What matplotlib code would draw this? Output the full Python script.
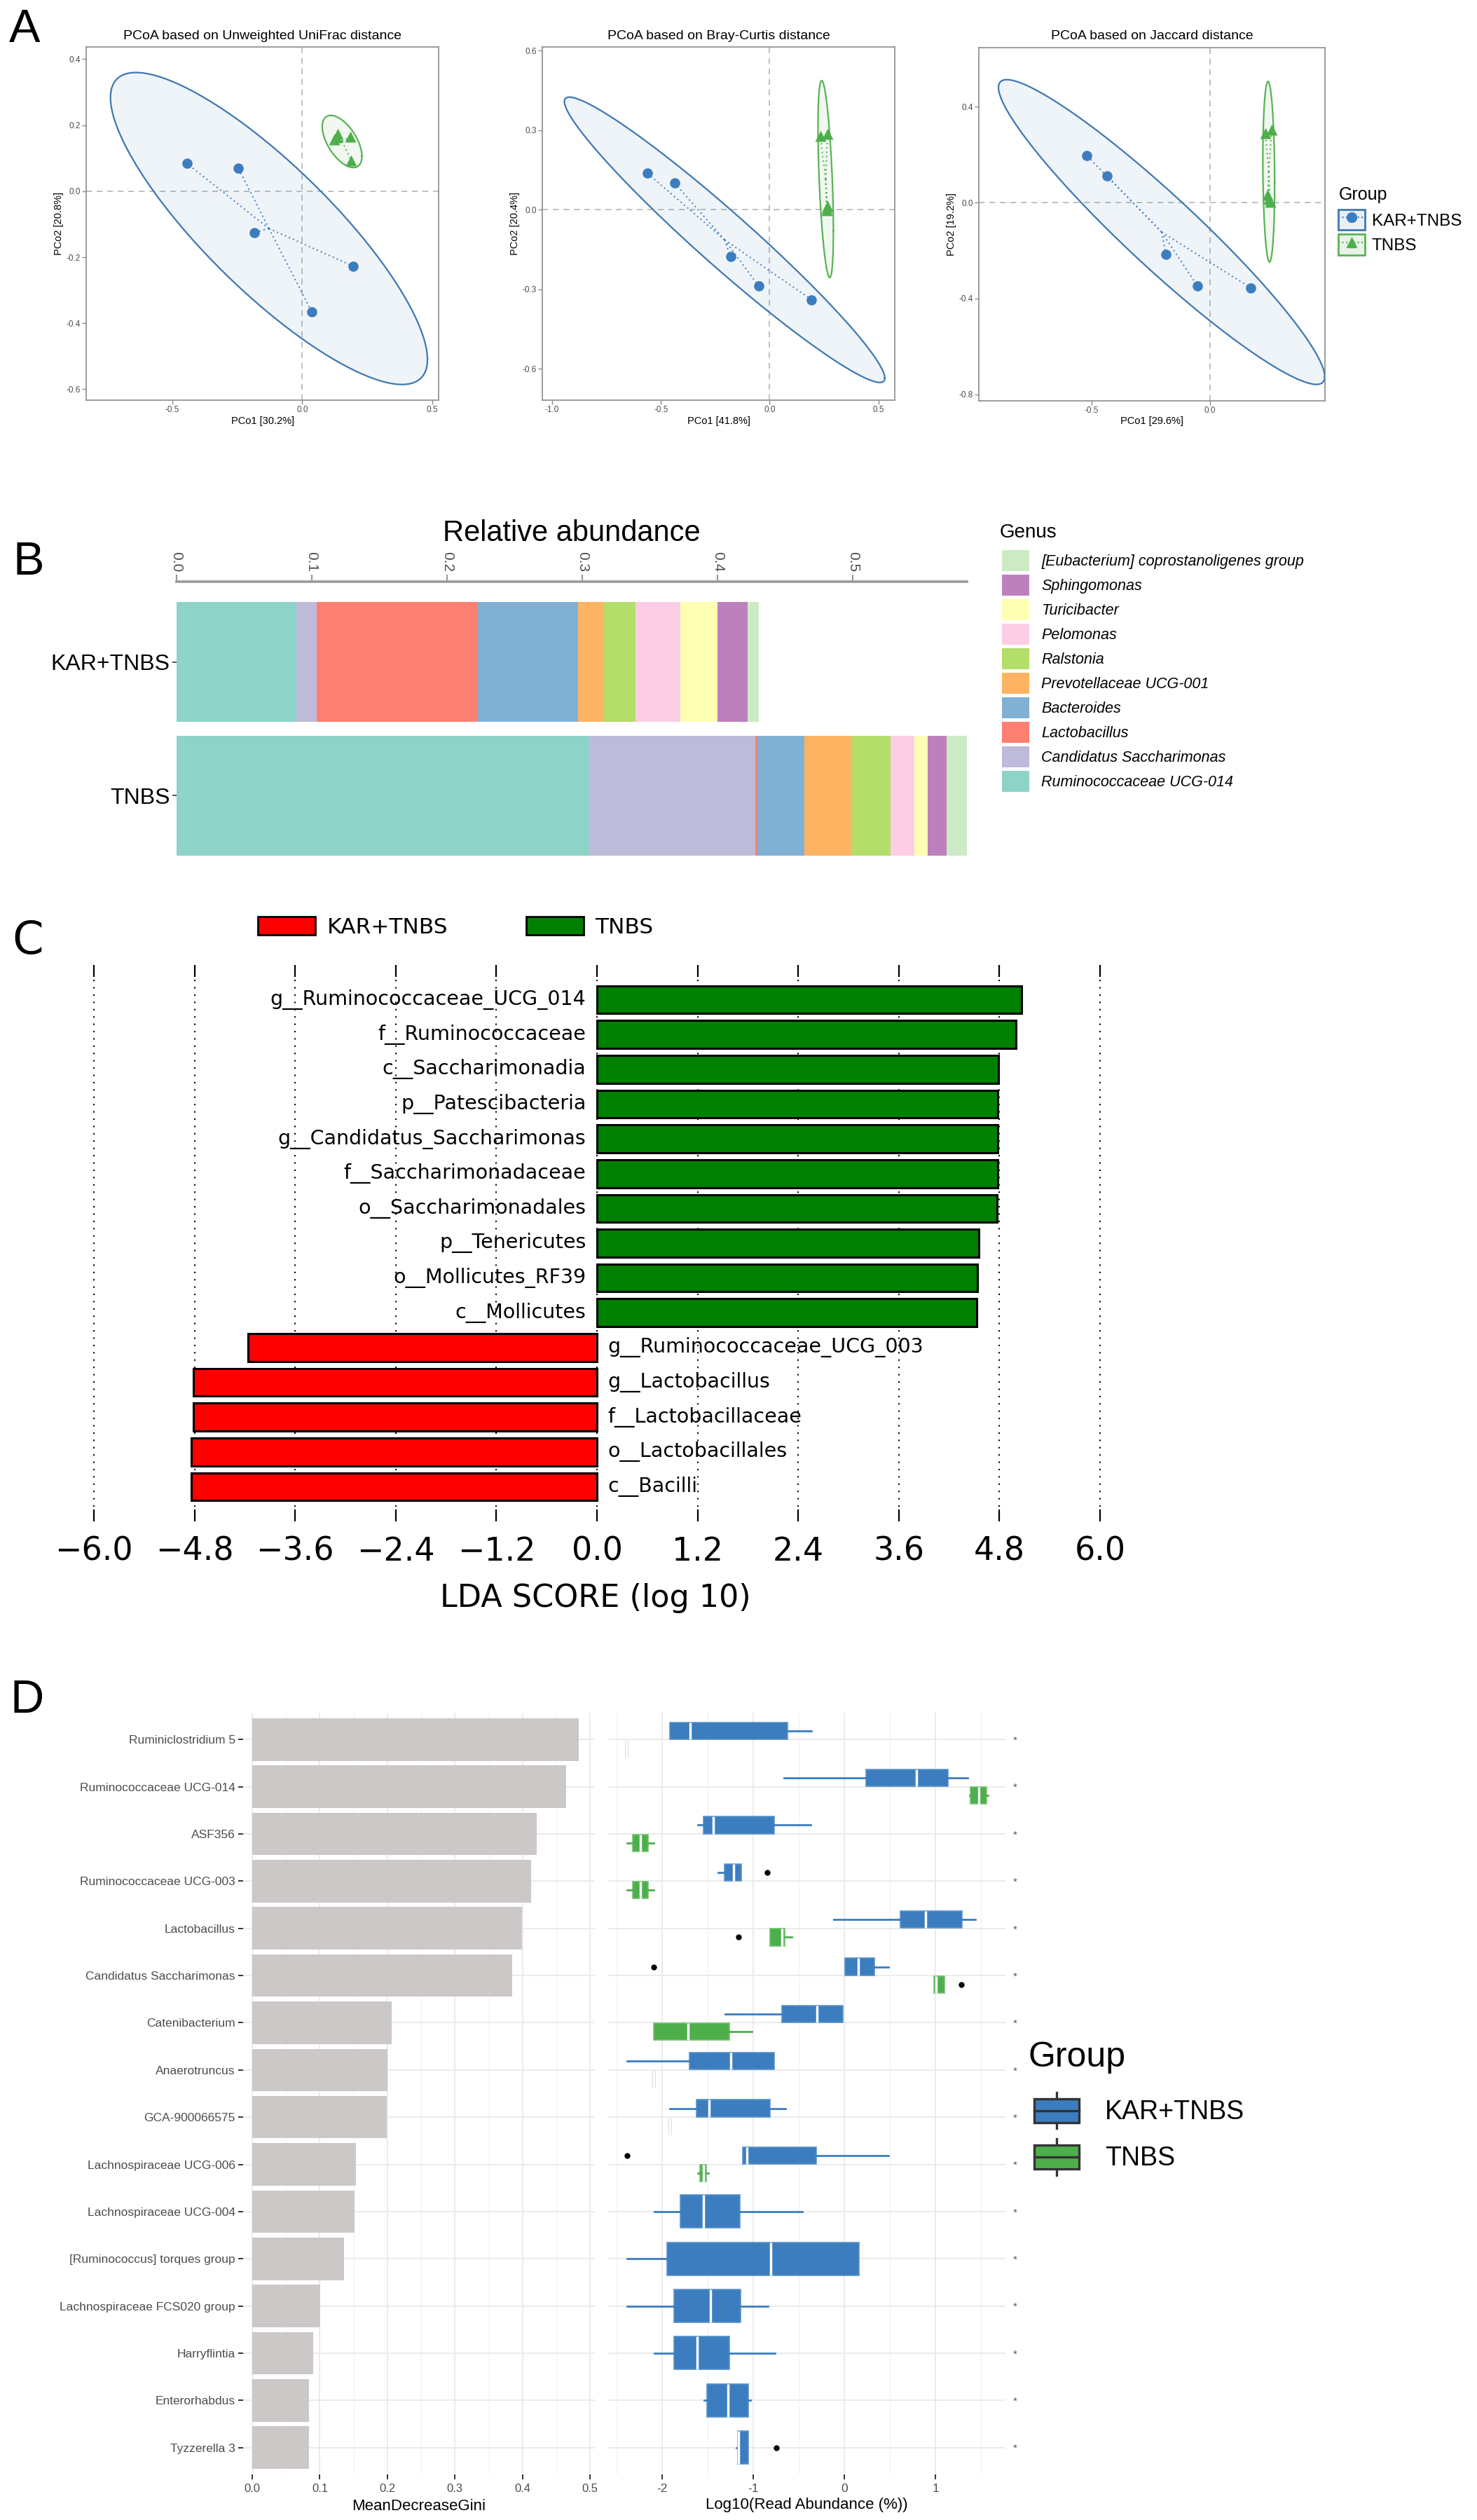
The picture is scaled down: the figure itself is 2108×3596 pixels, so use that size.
import numpy as np
import matplotlib
matplotlib.use('Agg')
import matplotlib.pyplot as plt
from matplotlib.patches import Patch, Rectangle
from matplotlib.lines import Line2D
from matplotlib.legend_handler import HandlerBase, HandlerTuple
from matplotlib.ticker import FuncFormatter, MultipleLocator

plt.rcParams['font.family'] = ['Liberation Sans', 'DejaVu Sans']

# ---------------- Panel A data (PCoA coordinates) ----------------
group_names = ["KAR+TNBS", "TNBS"]

uw_kar_x = [-0.443, -0.245, -0.183, 0.195, 0.037]
uw_kar_y = [0.084, 0.069, -0.125, -0.227, -0.366]
uw_tnbs_x = [0.136, 0.124, 0.186, 0.188, 0.132]
uw_tnbs_y = [0.174, 0.156, 0.166, 0.094, 0.163]

bc_kar_x = [-0.561, -0.436, -0.180, -0.051, 0.192]
bc_kar_y = [0.137, 0.100, -0.177, -0.287, -0.339]
bc_tnbs_x = [0.232, 0.266, 0.266, 0.261, 0.263]
bc_tnbs_y = [0.278, 0.286, 0.013, -0.003, 0.005]

jc_kar_x = [-0.519, -0.434, -0.186, -0.052, 0.171]
jc_kar_y = [0.195, 0.111, -0.217, -0.349, -0.355]
jc_tnbs_x = [0.233, 0.260, 0.244, 0.253, 0.250]
jc_tnbs_y = [0.289, 0.304, 0.033, 0.002, 0.015]

pcoa_titles = ["PCoA based on Unweighted UniFrac distance",
               "PCoA based on Bray-Curtis distance",
               "PCoA based on Jaccard distance"]
pcoa_xlabels = ["PCo1 [30.2%]", "PCo1 [41.8%]", "PCo1 [29.6%]"]
pcoa_ylabels = ["PCo2 [20.8%]", "PCo2 [20.4%]", "PCo2 [19.2%]"]
pcoa_xticks = [[-0.5, 0.0, 0.5], [-1.0, -0.5, 0.0, 0.5], [-0.5, 0.0]]
pcoa_yticks = [[-0.6, -0.4, -0.2, 0.0, 0.2, 0.4], [-0.6, -0.3, 0.0, 0.3, 0.6],
               [-0.8, -0.4, 0.0, 0.4]]

# ---------------- Panel B data (relative abundance) ----------------
genera = ["Ruminococcaceae UCG-014", "Candidatus Saccharimonas", "Lactobacillus",
          "Bacteroides", "Prevotellaceae UCG-001", "Ralstonia", "Pelomonas",
          "Turicibacter", "Sphingomonas", "[Eubacterium] coprostanoligenes group"]
kar_abund = [0.0884, 0.0153, 0.1186, 0.0744, 0.0191, 0.0233, 0.0335, 0.0274, 0.0219, 0.0083]
tnbs_abund = [0.3051, 0.1228, 0.0014, 0.0349, 0.0353, 0.0284, 0.0172, 0.0102, 0.0140, 0.0149]
genus_colors = ['#8DD3C7', '#BEBADA', '#FB8072', '#80B1D3', '#FDB462', '#B3DE69',
                '#FCCDE5', '#FFFFB3', '#BC80BD', '#CCEBC5']
abund_ticks = [0.0, 0.1, 0.2, 0.3, 0.4, 0.5]

# ---------------- Panel C data (LEfSe) ----------------
lda_names = ["g__Ruminococcaceae_UCG_014", "f__Ruminococcaceae", "c__Saccharimonadia",
             "p__Patescibacteria", "g__Candidatus_Saccharimonas", "f__Saccharimonadaceae",
             "o__Saccharimonadales", "p__Tenericutes", "o__Mollicutes_RF39", "c__Mollicutes",
             "g__Ruminococcaceae_UCG_003", "g__Lactobacillus", "f__Lactobacillaceae",
             "o__Lactobacillales", "c__Bacilli"]
lda_scores = [5.06, 5.00, 4.79, 4.78, 4.78, 4.78, 4.77, 4.55, 4.54, 4.53,
              -4.16, -4.81, -4.81, -4.84, -4.84]
lda_ticks = [-6.0, -4.8, -3.6, -2.4, -1.2, 0.0, 1.2, 2.4, 3.6, 4.8, 6.0]

# ---------------- Panel D data (random forest) ----------------
rf_genera = ["Ruminiclostridium 5", "Ruminococcaceae UCG-014", "ASF356",
             "Ruminococcaceae UCG-003", "Lactobacillus", "Candidatus Saccharimonas",
             "Catenibacterium", "Anaerotruncus", "GCA-900066575", "Lachnospiraceae UCG-006",
             "Lachnospiraceae UCG-004", "[Ruminococcus] torques group",
             "Lachnospiraceae FCS020 group", "Harryflintia", "Enterorhabdus", "Tyzzerella 3"]
rf_gini = [0.4834, 0.4645, 0.4211, 0.4130, 0.3988, 0.3844, 0.2065, 0.2002, 0.1991,
           0.1539, 0.1516, 0.1356, 0.1001, 0.0904, 0.0841, 0.0835]

kar_lo = [-1.919, -0.667, -1.610, -1.389, -0.117, 0.003, -1.311, -2.390, -1.915, -1.119,
          -2.088, -2.390, -2.390, -2.088, -1.541, -1.187]
kar_q1 = [-1.919, 0.237, -1.551, -1.320, 0.611, 0.003, -0.689, -1.701, -1.623, -1.119,
          -1.798, -1.948, -1.873, -1.870, -1.509, -1.171]
kar_med = [-1.694, 0.793, -1.441, -1.220, 0.891, 0.150, -0.302, -1.249, -1.489, -1.073,
           -1.545, -0.813, -1.470, -1.616, -1.281, -1.164]
kar_q3 = [-0.624, 1.135, -0.771, -1.132, 1.291, 0.328, -0.020, -0.774, -0.816, -0.309,
          -1.151, 0.163, -1.138, -1.262, -1.054, -1.054]
kar_hi = [-0.364, 1.353, -0.374, -1.132, 1.434, 0.485, -0.020, -0.774, -0.647, 0.481,
          -0.462, 0.163, -0.839, -0.761, -1.034, -1.054]
kar_out = [[], [], [], [-0.849], [], [-2.091], [], [], [], [-2.390], [], [], [], [], [], [-0.751]]

tnbs_lo = [-2.393, 1.376, -2.390, -2.390, -0.816, 0.982, -2.094, -2.091, -1.915, -1.610,
           None, None, None, None, None, None]
tnbs_q1 = [-2.393, 1.385, -2.322, -2.322, -0.816, 0.982, -2.094, -2.091, -1.915, -1.584,
           None, None, None, None, None, None]
tnbs_med = [-2.393, 1.473, -2.244, -2.244, -0.683, 1.005, -1.720, -2.091, -1.915, -1.551,
            None, None, None, None, None, None]
tnbs_q3 = [-2.393, 1.561, -2.159, -2.159, -0.654, 1.099, -1.262, -2.091, -1.915, -1.515,
           None, None, None, None, None, None]
tnbs_hi = [-2.393, 1.571, -2.094, -2.094, -0.582, 1.099, -1.015, -2.091, -1.915, -1.493,
           None, None, None, None, None, None]
tnbs_out = [[], [], [], [], [-1.161], [1.281], [], [], [], [], [], [], [], [], [], []]

# ---------------- Figure ----------------
W, H = 2108, 3596
fig = plt.figure(figsize=(W / 100, H / 100), dpi=100)


def add_ax(l, t, r, b):
    return fig.add_axes([l / W, 1 - b / H, (r - l) / W, (b - t) / H])


def ftext(x, y, s, **kw):
    return fig.text(x / W, 1 - y / H, s, **kw)


BLUE = '#3C7DBF'
BLUE_E = '#3E78B2'
GREEN = '#4DAF4A'
GREEN_E = '#5AB256'
GRAY_T = '#4D4D4D'


def ellipse(x, y, level=0.95, n=240):
    x = np.asarray(x, float)
    y = np.asarray(y, float)
    c = np.array([x.mean(), y.mean()])
    cov = np.cov(np.vstack([x, y]))
    r = np.sqrt(-2 * np.log(1 - level))
    L = np.linalg.cholesky(cov)
    t = np.linspace(0, 2 * np.pi, n)
    pts = c[:, None] + r * (L @ np.vstack([np.cos(t), np.sin(t)]))
    return pts[0], pts[1]


fmt1 = FuncFormatter(lambda v, p: f"{0.0 if abs(v) < 1e-9 else v:.1f}")

pcoa_sets = [(uw_kar_x, uw_kar_y, uw_tnbs_x, uw_tnbs_y),
             (bc_kar_x, bc_kar_y, bc_tnbs_x, bc_tnbs_y),
             (jc_kar_x, jc_kar_y, jc_tnbs_x, jc_tnbs_y)]
pcoa_boxes = [(123, 67, 626, 571), (774, 67, 1277, 571), (1397, 68, 1891, 572)]
pcoa_xlims = [(-0.83, 0.524), (-1.045, 0.575), (-0.975, 0.485)]
pcoa_ylims = [(-0.633, 0.437), (-0.718, 0.614), (-0.827, 0.646)]

for i in range(3):
    l, t, r, b = pcoa_boxes[i]
    ax = add_ax(l, t, r, b)
    kx, ky, tx, ty = pcoa_sets[i]
    ax.axhline(0, color='#B5B5B5', ls=(0, (5, 4)), lw=1.2, zorder=1)
    ax.axvline(0, color='#B5B5B5', ls=(0, (5, 4)), lw=1.2, zorder=1)
    for xs, ys, col, ecol, mk, sz in [(kx, ky, BLUE, BLUE_E, 'o', 110), (tx, ty, GREEN, GREEN_E, '^', 130)]:
        ex, ey = ellipse(xs, ys)
        ax.fill(ex, ey, color=col, alpha=0.08, lw=0, zorder=2)
        ax.plot(ex, ey, color=ecol, lw=1.6, zorder=3)
        cx, cy = np.mean(xs), np.mean(ys)
        for xi, yi in zip(xs, ys):
            ax.plot([cx, xi], [cy, yi], ls=(0, (1, 2.2)), color=col, lw=1.4, zorder=3)
        ax.scatter(xs, ys, marker=mk, s=sz, color=col, lw=0, zorder=4)
    ax.set_xlim(*pcoa_xlims[i])
    ax.set_ylim(*pcoa_ylims[i])
    ax.set_xticks(pcoa_xticks[i])
    ax.set_yticks(pcoa_yticks[i])
    ax.xaxis.set_major_formatter(fmt1)
    ax.yaxis.set_major_formatter(fmt1)
    ax.tick_params(length=4, width=1, color='#8C8C8C', labelsize=8.5, labelcolor=GRAY_T, pad=2)
    for s in ax.spines.values():
        s.set_color('#8C8C8C')
        s.set_linewidth(1.2)
    ftext((l + r) / 2, 56, pcoa_titles[i], ha='center', va='baseline', fontsize=14)
    ftext((l + r) / 2, 605, pcoa_xlabels[i], ha='center', va='baseline', fontsize=10.5)
    ftext(l - 39, (t + b) / 2, pcoa_ylabels[i], ha='center', va='center', rotation=90, fontsize=10.5)

legA = fig.legend(
    handles=[(Patch(facecolor='#E8EFF6', edgecolor=BLUE_E, lw=2),
              Line2D([], [], color=BLUE, marker='o', ls=':', ms=10)),
             (Patch(facecolor='#E9F4E8', edgecolor=GREEN_E, lw=2),
              Line2D([], [], color=GREEN, marker='^', ls=':', ms=10))],
    labels=group_names, loc='upper left', bbox_to_anchor=(1910 / W, 1 - 299 / H),
    frameon=False, fontsize=17.5, handlelength=1.56, handleheight=1.48,
    labelspacing=0.25, handletextpad=0.41, borderpad=0, borderaxespad=0,
    handler_map={tuple: HandlerTuple(ndivide=1)})
ftext(1911, 285, "Group", ha='left', va='baseline', fontsize=18)

# ---------------- Panel B ----------------
axB = add_ax(252, 830, 1380, 1250)
ypos = np.array([1, 0])
left = np.zeros(2)
for g, c, k, tv in zip(genera, genus_colors, kar_abund, tnbs_abund):
    vals = np.array([k, tv])
    axB.barh(ypos, vals, left=left, height=0.9, color=c, lw=0)
    left = left + vals
axB.set_xlim(0, left.max())
axB.set_ylim(-0.6, 1.6)
axB.xaxis.tick_top()
axB.set_xticks(abund_ticks)
axB.set_xticklabels([f"{v:.1f}" for v in abund_ticks], rotation=-90, fontsize=15, color=GRAY_T)
axB.set_yticks(ypos)
axB.set_yticklabels(group_names, fontsize=23)
for k, s in axB.spines.items():
    s.set_visible(k == 'top')
axB.spines['top'].set_color('#9A9A9A')
axB.spines['top'].set_linewidth(2.6)
axB.tick_params(axis='x', direction='out', length=7, width=1.6, color='#9A9A9A', pad=3)
axB.tick_params(axis='y', length=4, width=1.2, color='#333333', pad=3)
ftext(816, 772, "Relative abundance", ha='center', va='baseline', fontsize=30)

legB = fig.legend(
    handles=[Patch(facecolor=c, lw=0) for c in genus_colors[::-1]],
    labels=genera[::-1], loc='upper left', bbox_to_anchor=(1430 / W, 1 - 785 / H),
    frameon=False, prop={'style': 'italic', 'size': 15.5}, handlelength=1.81,
    handleheight=1.77, labelspacing=0.23, handletextpad=0.79, borderpad=0, borderaxespad=0)
ftext(1427, 767, "Genus", ha='left', va='baseline', fontsize=20)

# ---------------- Panel C ----------------
axC = add_ax(98, 1377, 1606, 2171)
n_lda = len(lda_names)
yc = np.arange(n_lda)[::-1]
ccols = ['#FF0000' if s < 0 else '#008000' for s in lda_scores]
axC.barh(yc, lda_scores, height=0.8, color=ccols, edgecolor='black', lw=2.2, zorder=2)
for yv, name, s in zip(yc, lda_names, lda_scores):
    if s > 0:
        axC.text(-0.13, yv, name, ha='right', va='center', fontsize=20.5, family='DejaVu Sans', zorder=3)
    else:
        axC.text(0.13, yv, name, ha='left', va='center', fontsize=20.5, family='DejaVu Sans', zorder=3)
axC.set_xlim(-6.3, 6.3)
axC.set_ylim(-1, n_lda)
axC.set_xticks(lda_ticks)
axC.xaxis.set_major_formatter(FuncFormatter(
    lambda v, p: f"{0.0 if abs(v) < 1e-9 else v:.1f}".replace('-', '\u2212')))
axC.set_yticks([])
for s in axC.spines.values():
    s.set_visible(False)
axC.grid(axis='x', ls=(0, (1, 4)), color='black', lw=1.5, zorder=1)
axC.set_axisbelow(True)
axC.tick_params(axis='x', direction='in', length=12, width=1.6, top=True, bottom=True,
                labelsize=33, pad=15, color='black')
for lab in axC.get_xticklabels():
    lab.set_family('DejaVu Sans')
ftext(850, 2280, "LDA SCORE (log 10)", ha='center', va='center', fontsize=32, family='DejaVu Sans')
legC = fig.legend(
    handles=[Patch(facecolor='#FF0000', edgecolor='black', lw=2),
             Patch(facecolor='#008000', edgecolor='black', lw=2)],
    labels=group_names, loc='center left', bbox_to_anchor=(368 / W, 1 - 1323 / H),
    ncol=2, frameon=False, prop={'family': 'DejaVu Sans', 'size': 22.5},
    handlelength=2.63, handleheight=0.89, handletextpad=0.54, columnspacing=3.55,
    borderpad=0, borderaxespad=0)

# ---------------- Panel D ----------------
n_rf = len(rf_genera)
rows = np.arange(n_rf, 0, -1)

axD1 = add_ax(347, 2444, 849, 3531)
axD1.barh(rows, rf_gini, height=0.9, color='#CDC8C8', lw=0, zorder=2)
axD1.set_xlim(-0.0135, 0.507)
axD1.set_ylim(0.43, n_rf + 0.57)
axD1.set_yticks(rows)
axD1.set_yticklabels(rf_genera, fontsize=12.5, color=GRAY_T)
axD1.xaxis.set_major_locator(MultipleLocator(0.1))
axD1.xaxis.set_minor_locator(MultipleLocator(0.05))
axD1.xaxis.set_major_formatter(fmt1)
axD1.tick_params(axis='x', which='major', labelsize=12, labelcolor=GRAY_T, length=5, width=1.4,
                 color='#333333', pad=4)
axD1.tick_params(axis='x', which='minor', length=0)
axD1.tick_params(axis='y', length=5, width=1.4, color='#333333', pad=3)
axD1.grid(which='major', color='#EBEBEB', lw=1.4, zorder=0)
axD1.grid(which='minor', axis='x', color='#F2F2F2', lw=0.9, zorder=0)
axD1.set_axisbelow(True)
for s in axD1.spines.values():
    s.set_visible(False)
ftext(598, 3582, "MeanDecreaseGini", ha='center', va='baseline', fontsize=16)

axD2 = add_ax(868, 2444, 1435, 3531)
for i in range(n_rf):
    y0 = rows[i]
    two = tnbs_med[i] is not None
    wd = 0.36 if two else 0.70
    pos_k = y0 + 0.1875 if two else y0
    st = dict(whislo=kar_lo[i], q1=kar_q1[i], med=kar_med[i], q3=kar_q3[i],
              whishi=kar_hi[i], fliers=kar_out[i])
    axD2.bxp([st], positions=[pos_k], widths=[wd], orientation='horizontal', patch_artist=True,
             showcaps=False, boxprops=dict(facecolor=BLUE, edgecolor='#5B93C9', lw=1.2),
             whiskerprops=dict(color=BLUE, lw=2), medianprops=dict(color='white', lw=2.5),
             flierprops=dict(marker='o', markerfacecolor='k', markeredgecolor='k', markersize=5),
             manage_ticks=False, zorder=3)
    if two:
        st2 = dict(whislo=tnbs_lo[i], q1=tnbs_q1[i], med=tnbs_med[i], q3=tnbs_q3[i],
                   whishi=tnbs_hi[i], fliers=tnbs_out[i])
        collapsed = tnbs_q3[i] - tnbs_q1[i] < 1e-9
        if collapsed:
            bp = dict(facecolor='white', edgecolor='#C9D6C9', lw=3.5)
        else:
            bp = dict(facecolor=GREEN, edgecolor='#74C071', lw=1.2)
        axD2.bxp([st2], positions=[y0 - 0.1875], widths=[wd], orientation='horizontal',
                 patch_artist=True, showcaps=False, boxprops=bp,
                 whiskerprops=dict(color=GREEN, lw=2), medianprops=dict(color='white', lw=2.5),
                 flierprops=dict(marker='o', markerfacecolor='k', markeredgecolor='k', markersize=5),
                 manage_ticks=False, zorder=3)
axD2.set_xlim(-2.594, 1.767)
axD2.set_ylim(0.43, n_rf + 0.57)
axD2.set_yticks(rows)
axD2.set_yticklabels(['*'] * n_rf)
axD2.yaxis.tick_right()
axD2.tick_params(axis='y', length=0, pad=8, labelsize=11, labelcolor='#555555')
axD2.set_xticks([-2, -1, 0, 1])
axD2.set_xticklabels(['-2', '-1', '0', '1'])
axD2.xaxis.set_minor_locator(MultipleLocator(0.5))
axD2.tick_params(axis='x', which='major', labelsize=12.5, labelcolor=GRAY_T, length=5, width=1.4,
                 color='#333333', pad=4)
axD2.tick_params(axis='x', which='minor', length=0)
axD2.grid(which='major', color='#EBEBEB', lw=1.4, zorder=0)
axD2.grid(which='minor', axis='x', color='#F2F2F2', lw=0.9, zorder=0)
axD2.set_axisbelow(True)
for s in axD2.spines.values():
    s.set_visible(False)
ftext(1151, 3580, "Log10(Read Abundance (%))", ha='center', va='baseline', fontsize=16)


class BoxKeyHandler(HandlerBase):
    def create_artists(self, legend, orig_handle, xdescent, ydescent, width, height, fontsize, trans):
        fc = orig_handle.get_facecolor()
        x0, y0 = -xdescent, -ydescent
        ec = '#333333'
        rect = Rectangle((x0, y0 + 0.17 * height), width, 0.66 * height, facecolor=fc,
                         edgecolor=ec, lw=2.4, transform=trans)
        med = Line2D([x0, x0 + width], [y0 + 0.5 * height] * 2, color=ec, lw=2.4, transform=trans)
        w1 = Line2D([x0 + width / 2] * 2, [y0 + 0.83 * height, y0 + height], color=ec, lw=2.4,
                    transform=trans)
        w2 = Line2D([x0 + width / 2] * 2, [y0, y0 + 0.17 * height], color=ec, lw=2.4,
                    transform=trans)
        return [w1, w2, rect, med]


legD = fig.legend(
    handles=[Patch(facecolor=BLUE), Patch(facecolor=GREEN)], labels=group_names,
    loc='upper left', bbox_to_anchor=(1476 / W, 1 - 2986 / H), frameon=False, fontsize=27,
    handlelength=1.71, handleheight=1.73, labelspacing=0.4, handletextpad=0.99,
    borderpad=0, borderaxespad=0, handler_map={Patch: BoxKeyHandler()})
ftext(1468, 2949, "Group", ha='left', va='baseline', fontsize=36)

# ---------------- Panel letters ----------------
ftext(13, 60, "A", ha='left', va='baseline', fontsize=48)
ftext(18, 820, "B", ha='left', va='baseline', fontsize=48)
ftext(17, 1361, "C", ha='left', va='baseline', fontsize=46, family='DejaVu Sans')
ftext(14, 2444, "D", ha='left', va='baseline', fontsize=48)

fig.savefig('out.png', dpi=100)
